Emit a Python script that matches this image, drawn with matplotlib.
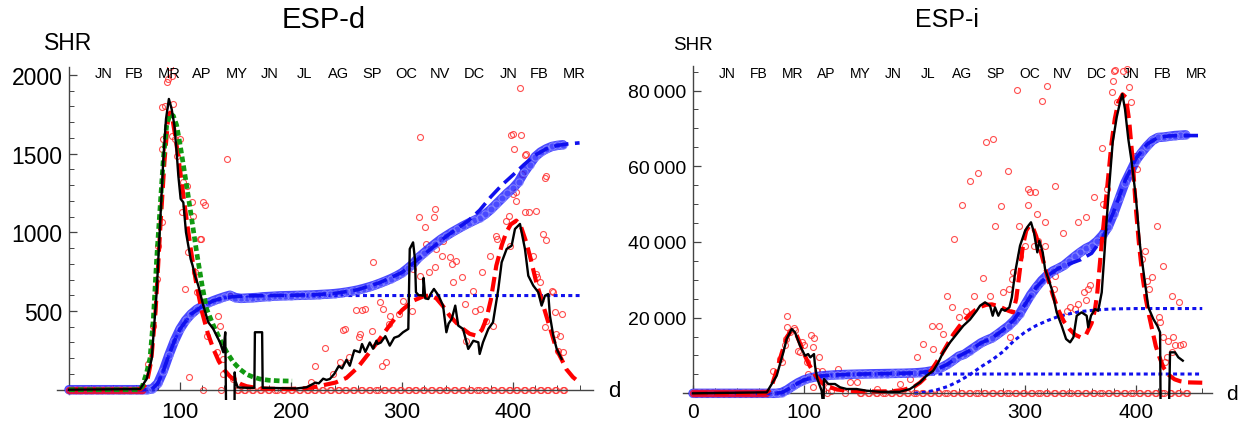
import matplotlib.pyplot as plt
from matplotlib.ticker import MultipleLocator, FixedLocator

plt.rcParams['font.family'] = ['Liberation Sans', 'DejaVu Sans']

# month labels along the top (day number at month end)
months = ['JN', 'FB', 'MR', 'AP', 'MY', 'JN', 'JL', 'AG', 'SP', 'OC', 'NV', 'DC', 'JN', 'FB', 'MR']
month_days = [31, 59, 90, 120, 151, 181, 212, 243, 273, 304, 334, 365, 396, 424, 455]

# days with a zero report (shared by both panels)
zero_days_early = [0, 2, 4, 6, 8, 10, 12, 14, 16, 18, 20, 22, 24, 26, 28, 30, 32, 34, 36,
                   38, 40, 42, 44, 46, 48, 50, 52, 54, 56, 58, 60, 62, 64, 66]
zero_days = [121, 137, 151, 152, 158, 159, 165, 166, 172, 173, 179, 180, 186, 187, 193, 194,
             200, 201, 207, 208, 214, 215, 221, 222, 228, 229, 235, 236, 242, 243, 249, 250,
             256, 257, 263, 264, 270, 271, 277, 278, 284, 285, 291, 292, 298, 299, 305, 306,
             312, 313, 319, 320, 326, 327, 333, 334, 340, 341, 347, 348, 354, 355, 361, 362,
             368, 369, 375, 376, 382, 383, 389, 390, 396, 397, 403, 404, 410, 411, 417, 418,
             424, 425, 431, 432, 438, 439, 445, 446]

# ---------------- ESP-d ----------------
d_daily_x = [71, 76, 79, 80.5, 83.5, 83.5, 85, 84, 86.5, 88, 89.5, 91, 92.5, 94, 95.5, 92.5, 97,
             100, 101.5, 103, 104.5, 106, 107.5, 108.4, 110.5, 112, 118, 121, 115, 113.5, 122.8,
             124, 133, 136, 134.5, 139, 139, 142, 145, 148, 118.7,
             218, 222, 231, 238, 244, 247, 249, 252, 259, 261, 262, 264, 267, 273, 274, 280, 282,
             283, 286, 288, 289, 297, 301, 309, 310, 315, 316, 316, 321, 322, 324, 329, 330, 331,
             330, 336, 337, 343, 345, 346, 349, 354, 357, 358, 364, 366, 370, 372, 376, 379, 382,
             385, 386, 394, 396, 397, 400, 403, 403, 408, 411, 414, 421, 412, 430, 427, 430, 418,
             421, 422, 424, 435, 436, 429, 438, 439, 442, 444, 445, 441, 400, 407, 401, 406, 411,
             429, 398]
d_daily_y = [163, 407, 703, 915, 1063, 1529, 1593, 1794, 1805, 1953, 1974, 2048, 1995, 1815, 1593,
             1614, 1487, 1593, 1127, 1318, 640, 1296, 873, 79, 1190, 1106, 957, 1190, 619, 746,
             1176, 343, 238, 407, 470, 195, 99, 1466, 597, 68, 956,
             50, 150, 265, 100, 174, 380, 386, 206, 506, 333, 354, 506, 513, 375, 809, 555, 152,
             513, 174, 417, 470, 481, 565, 502, 767, 1095, 1605, 724, 1032, 926, 746, 1095, 1148,
             894, 778, 851, 947, 841, 799, 682, 820, 714, 544, 311, 629, 502, 513, 750, 438, 851,
             407, 978, 960, 1074, 1105, 915, 1243, 1254, 1201, 1370, 1127, 1131, 1137, 1497, 1360,
             989, 951, 851, 735, 714, 682, 629, 619, 396, 491, 354, 342, 481, 241, 247, 1625, 1615,
             1531, 1918, 1489, 1343, 1615]

d_avg_x = [0, 64, 70, 74.5, 79, 82, 85, 87.4, 90, 92.5, 95, 97, 98.5, 100.6, 103, 105.4, 107.5,
           109.6, 111.4, 113.5, 116.5, 121, 125.5, 130, 136, 139, 140.8, 141.8, 142.3, 149, 149.3,
           149.8, 152, 160, 167, 167.5, 174, 174.5, 190, 205, 214, 222, 225, 229, 232, 235, 239,
           243, 246, 250, 253, 257, 262, 264, 267, 271, 274, 277, 278, 281, 285, 289, 293, 297,
           301, 305.7, 307, 310, 311.7, 312.6, 315, 317, 319, 319.5, 321, 323.7, 326, 328.8, 333,
           337, 340, 342, 344.8, 348, 350.7, 355, 359.7, 364.3, 368.8, 370, 373, 377.8, 382,
           386.8, 389.8, 394.3, 398.8, 401.8, 406.3, 410.8, 413.8, 418.3, 422.8, 425.8, 428.8,
           431.8, 433.3, 436.3, 439.4, 443.8]
d_avg_y = [0, 4, 68, 195, 619, 1042, 1466, 1720, 1847, 1783, 1677, 1508, 1360, 1212, 1190, 1000,
           915, 830, 788, 724, 661, 534, 428, 386, 301, 238, 365, -300, -300, -300, 110, 60, 15, 12,
           12, 365, 365, 12, 10, 8, 15, 45, 40, 70, 62, 68, 100, 150, 135, 190, 152, 250, 238, 290,
           240, 300, 260, 311, 290, 300, 340, 280, 330, 340, 365, 386, 894, 936, 830, 619, 600, 600,
           597, 710, 580, 576, 610, 640, 597, 534, 365, 420, 449, 534, 407, 386, 259, 311, 301, 227,
           301, 386, 428, 640, 809, 894, 915, 1021, 1053, 894, 724, 661, 619, 534, 597, 608, 470,
           343, 259, 195]

d_fit_x = [0, 60, 65, 70, 74, 78, 82, 86, 89, 91, 93, 96, 100, 105, 110, 115, 120, 125, 130, 135,
           140, 145, 150, 155, 160, 170, 180, 190, 200, 210, 220, 230, 240, 250, 260, 270, 280,
           290, 300, 310, 320, 326, 331, 337, 343, 349, 355, 361, 367, 372, 376, 380, 385, 390,
           394, 398, 403, 407, 412, 416, 421, 425, 430, 435, 439, 444, 448, 454, 460]
d_fit_y = [0, 0, 5, 40, 180, 500, 1000, 1450, 1700, 1760, 1730, 1600, 1400, 1130, 880, 660, 490,
           360, 260, 180, 125, 85, 55, 35, 22, 10, 6, 5, 5, 8, 15, 30, 45, 75, 140, 230, 322, 420,
           505, 565, 595, 598, 580, 530, 470, 425, 386, 355, 343, 380, 449, 570, 788, 920, 1000,
           1050, 1074, 1040, 936, 830, 682, 590, 470, 355, 259, 190, 131, 80, 45]

d_wave1_x = [0, 62, 66, 70, 73, 76, 79, 82, 85, 88, 91, 94, 97, 100, 103, 106, 110, 115, 120, 124,
             130, 136, 142, 148, 154, 160, 166, 172, 180, 190, 201]
d_wave1_y = [0, 0, 20, 110, 200, 450, 830, 1150, 1466, 1680, 1752, 1740, 1680, 1560, 1430, 1296,
             1110, 874, 660, 513, 410, 320, 240, 175, 130, 98, 80, 68, 60, 56, 55]

d_cum_x = [0, 5, 10, 15, 20, 25, 30, 35, 40, 45, 50, 55, 60, 65, 70, 75, 80, 85, 90, 95, 100,
           105, 110, 115, 120, 125, 130, 135, 140, 145, 150, 155, 160, 165, 170, 175, 180, 185,
           190, 195, 200, 205, 210, 215, 220, 225, 230, 235, 240, 245, 250, 255, 260, 265, 270,
           275, 280, 285, 290, 295, 300, 305, 310, 315, 320, 325, 330, 335, 340, 345, 350, 355,
           360, 365, 370, 375, 380, 385, 390, 395, 400, 405, 410, 415, 420, 425, 430, 435, 440, 445]
d_cum_y = [0, 0, 0, 0, 0, 0, 0, 0, 0, 0, 0, 0, 0, 0, 0, 5, 40, 120, 220, 310, 385, 440, 480, 510,
           530, 550, 565, 578, 590, 600, 585, 580, 582, 584, 586, 590, 592, 594, 596, 597, 598,
           599, 600, 601, 602, 604, 606, 608, 611, 615, 620, 626, 633, 642, 652, 663, 676, 690,
           705, 722, 742, 770, 800, 840, 870, 900, 928, 955, 978, 1000, 1020, 1040, 1058, 1075,
           1092, 1115, 1145, 1180, 1215, 1250, 1280, 1320, 1380, 1430, 1480, 1510, 1530, 1545,
           1552, 1556]

d_cumfit_x = [0, 70, 75, 80, 85, 90, 95, 100, 110, 120, 130, 140, 150, 160, 180, 200, 220, 240,
              260, 280, 300, 320, 340, 350, 360, 370, 380, 390, 400, 410, 420, 430, 440, 450, 460]
d_cumfit_y = [0, 0, 5, 40, 120, 220, 310, 385, 480, 530, 565, 585, 592, 596, 598, 600, 603, 612,
              635, 680, 745, 860, 975, 1025, 1075, 1140, 1225, 1300, 1364, 1430, 1490, 1530, 1552,
              1562, 1568]

d_cum1_x = [0, 70, 75, 80, 85, 90, 95, 100, 110, 120, 130, 140, 150, 160, 180, 200, 460]
d_cum1_y = [0, 0, 5, 40, 120, 220, 310, 385, 480, 530, 565, 585, 592, 595, 597, 598, 598]

# ---------------- ESP-i ----------------
i_daily_x = [72.5, 80, 84.6, 85, 87.6, 91.2, 92, 84, 82.7, 78.6, 95, 96.5, 98.2, 100.2, 102.7,
             104.2, 106.6, 109.3, 108.3, 108.7, 114, 112, 116.2, 117.7, 122.2, 131.3, 125, 141.8,
             147.9, 166, 187, 196, 202, 208, 215.6, 222.5, 217, 226, 229, 236, 243.3, 250, 257,
             254, 247, 240.5, 234, 264.7, 271.3, 278, 284.9, 272.8, 292.4, 315, 320, 261.7, 268.3,
             280.3, 285.8, 287.9, 288.8, 286.4, 294.8, 302.9, 304.4, 302.3, 309, 310.5, 308, 311.7,
             318, 327, 334, 348, 355, 362.2, 369.2, 370, 373.7, 378.2, 380.3, 383.3, 388.7, 394.1,
             395.4, 399.3, 400.8, 405.3, 408.3, 414.3, 418.9, 424.8, 432.4, 439.3, 421.2, 421.7,
             424.8, 429.4, 433.9, 435.4, 440, 442.4, 432.4, 426.3, 428.4, 409.8, 412.2, 340.5, 345,
             348, 353, 357, 358.5, 355, 337.5, 327, 326.5, 318, 295.4, 300, 381, 391.7, 379]
i_daily_y = [5970, 8190, 20340, 17440, 16120, 17170, 16650, 14350, 12850, 9060, 11250, 10860,
             13470, 12850, 8190, 5100, 15400, 14530, 12360, 1590, 9510, 5970, 5970, 2900, 1590,
             6420, 700, 2900, 2900, 1140, 2460, 3780, 9510, 13030, 17860, 17860, 11700, 15670,
             25790, 40770, 49830, 56170, 58120, 25630, 21820, 20080, 22720, 66480, 67190, 49570,
             58820, 44280, 80220, 77310, 81110, 30380, 25790, 26680, 27690, 30200, 32140, 14800,
             44280, 53980, 53120, 49830, 53120, 47370, 39000, 40330, 45180, 54850, 42270, 45180,
             46500, 51780, 64730, 50010, 53980, 79520, 85230, 76880, 85230, 80850, 77040, 62780,
             59260, 35480, 37680, 30650, 44280, 33700, 25630, 24040, 20080, 18900, 14800, 13900,
             14800, 12760, 12760, 13000, 10830, 8190, 9700, 29750, 27500, 22720, 22280, 23600,
             26680, 27560, 28700, 24750, 21820, 31070, 27560, 39000, 36360, 39000, 85300, 85700,
             82600]

i_avg_x = [0, 66.6, 75.6, 81.6, 84.6, 89.2, 92.1, 96.7, 101.2, 104, 106, 109.3, 110.2, 112.3,
           116.2, 117.5, 117.9, 118.3, 122.2, 128.3, 132.8, 138.8, 147.8, 156.8, 168.8, 186.8, 196,
           205, 211, 217, 221.6, 226, 232.2, 238.2, 244.2, 250.2, 256.3, 259.3, 263.8, 268.3,
           270.7, 272.8, 275.8, 278.8, 281.8, 285.8, 288, 291, 295.4, 300, 302.9, 305.3, 308, 311,
           312.9, 315.9, 318, 321, 324, 328.5, 333, 337, 340.6, 343.6, 346.6, 351, 355.6, 357,
           359.5, 363, 366, 369.2, 371.3, 373.7, 376, 379.1, 382.7, 385.7, 387.8, 390.2, 393.2,
           396.3, 400.2, 403.8, 407.4, 411.3, 415.8, 419.4, 421.9, 422.4, 429.9, 430.9, 435.4,
           438.4, 442.4]
i_avg_y = [0, 260, 4650, 10830, 14350, 16990, 16120, 12580, 9930, 10370, 9500, 10370, 7290, 3780,
           690, -3000, -3000, 3780, 2460, 2460, 1590, 1140, 1140, 690, 400, 400, 1140, 2900, 4650,
           5970, 8190, 10830, 13470, 15670, 17860, 19500, 21820, 23150, 24040, 23150, 20500, 22720,
           20500, 22280, 21820, 22720, 25360, 31960, 39000, 42960, 44280, 45180, 42530, 37250,
           40330, 37250, 32840, 30200, 27560, 21400, 17860, 14350, 13470, 14800, 20500, 21400,
           20500, 17440, 20500, 22270, 21820, 26680, 35480, 46050, 54850, 66310, 72920, 76880,
           79070, 75110, 67190, 61030, 51330, 39000, 31070, 22720, 19630, 17860, 16120, -5000,
           -5000, 10830, 10830, 9510, 8630]

i_fit_x = [0, 65, 70, 75, 80, 85, 89, 93, 97, 101, 105, 110, 115, 120, 130, 140, 150, 160, 170,
           180, 190, 200, 205, 210, 215, 220, 225, 230, 235, 240, 245, 250, 255, 260, 265, 270,
           275, 280, 285, 289, 292, 295, 298, 301, 304, 307, 310, 315, 320, 325, 330, 335, 340,
           345, 350, 355, 360, 363, 365, 369, 372, 374, 378, 381, 384, 388, 391, 394, 397, 400,
           403, 406, 409, 412, 415, 418, 421, 425, 430, 435, 440, 446, 453, 460]
i_fit_y = [0, 0, 1000, 5500, 10500, 15000, 16600, 15800, 13000, 10000, 7500, 5000, 3200, 2000,
           1000, 700, 550, 500, 500, 550, 900, 1800, 2800, 4200, 6000, 8200, 10500, 13000, 15500,
           17500, 19300, 20800, 22000, 22900, 23400, 23500, 23100, 22500, 21800, 21400, 25000,
           32000, 39000, 43000, 44300, 43800, 41500, 36500, 31000, 26000, 22000, 19000, 17000,
           15500, 14800, 15500, 18500, 22000, 26000, 39000, 48000, 54000, 66000, 72500, 76800,
           79000, 78200, 72000, 62000, 49000, 39000, 31000, 25000, 20500, 16500, 12500, 9800, 6800,
           4800, 3700, 3200, 2900, 2850, 2800]

i_cum_x = d_cum_x
i_cum_y = [0, 0, 0, 0, 0, 0, 0, 0, 0, 0, 0, 0, 0, 0, 0, 0, 200, 900, 1900, 2800, 3500, 4000, 4300,
           4550, 4700, 4800, 4900, 4950, 5000, 5040, 5080, 5110, 5150, 5180, 5200, 5230, 5250,
           5280, 5300, 5350, 5400, 5500, 5650, 5900, 6300, 6900, 7700, 8700, 9800, 10300, 11300,
           12300, 13300, 14000, 14600, 15600, 16700, 17800, 19200, 21000, 23500, 26000, 28000,
           29800, 31200, 32300, 33000, 33800, 35000, 36200, 37300, 38300, 39000, 40200, 41800,
           44000, 47500, 51500, 55500, 58500, 61500, 63500, 65300, 66800, 67600, 67700, 67900,
           68100, 68200, 68300]

i_cumfit_x = [0, 75, 80, 85, 90, 100, 110, 120, 140, 160, 180, 200, 210, 220, 230, 240, 250, 260,
              270, 280, 290, 300, 310, 320, 330, 340, 350, 360, 370, 380, 390, 400, 410, 420, 430,
              440, 450, 460]
i_cumfit_y = [0, 0, 200, 900, 1900, 3500, 4300, 4700, 5000, 5150, 5250, 5400, 5650, 6300, 7700,
              9800, 11300, 13300, 14600, 16700, 19500, 23500, 28000, 31000, 33000, 34200, 35300,
              37000, 41000, 48000, 56000, 62000, 65800, 67600, 68000, 68100, 68100, 68100]

i_cum1_x = [0, 75, 80, 85, 90, 100, 110, 120, 140, 160, 200, 460]
i_cum1_y = [0, 0, 200, 900, 1900, 3500, 4300, 4700, 5000, 5080, 5100, 5100]

i_cum2_x = [200, 210, 220, 230, 240, 250, 260, 270, 280, 290, 300, 310, 320, 330, 340, 350, 360,
            370, 380, 400, 460]
i_cum2_y = [0, 300, 900, 1800, 3200, 4900, 7000, 8800, 11000, 13900, 16200, 17900, 19200, 20300,
            21000, 21600, 21900, 22150, 22300, 22400, 22400]

i_ytick_vals = [20000, 40000, 60000, 80000]
i_ytick_labels = ['20\u2009000', '40\u2009000', '60\u2009000', '80\u2009000']


def style_axes(ax, xmajor, ymajor, yminor, fs_x, fs_y, xpad):
    for s in ['top', 'right']:
        ax.spines[s].set_visible(False)
    ax.spines['left'].set_position(('data', 0))
    ax.spines['bottom'].set_position(('data', 0))
    for s in ['left', 'bottom']:
        ax.spines[s].set_color('#444444')
        ax.spines[s].set_linewidth(1.0)
    ax.xaxis.set_major_locator(FixedLocator(xmajor))
    ax.xaxis.set_minor_locator(MultipleLocator(20))
    ax.yaxis.set_major_locator(FixedLocator(ymajor))
    ax.yaxis.set_minor_locator(MultipleLocator(yminor))
    ax.tick_params(which='both', direction='in', color='#444444')
    ax.tick_params(which='major', length=6, width=0.9)
    ax.tick_params(which='minor', length=3.5, width=0.7)
    ax.tick_params(axis='x', labelsize=fs_x, pad=xpad)
    ax.tick_params(axis='y', labelsize=fs_y, pad=4.5)


def draw_common(ax, daily_x, daily_y, avg_x, avg_y, fit_x, fit_y, cum_x, cum_y, cumfit_x, cumfit_y):
    red = '#ff3030'
    ax.plot(daily_x, daily_y, 'o', ms=4.3, mfc='none', mec=red, mew=0.8, alpha=0.85, zorder=2)
    ax.plot(zero_days, [0] * len(zero_days), 'o', ms=4.3, mfc='none', mec=red, mew=0.8,
            alpha=0.85, zorder=2)
    # cumulative band: thick line with open circles on it
    ax.plot(cum_x, cum_y, '-', color='#1c1cff', lw=6.8, alpha=0.8, zorder=3,
            solid_capstyle='round')
    ax.plot(cum_x, cum_y, 'o', ms=5.2, mfc='none', mec='#8a8aff', mew=0.8, alpha=0.8, zorder=3)
    ax.plot(zero_days_early, [0] * len(zero_days_early), 'o', ms=4.3, mfc='none', mec='#e01040',
            mew=1.1, zorder=4)
    ax.plot(cumfit_x, cumfit_y, color='#1010ee', lw=2.6, dashes=(4, 1.8), zorder=5)
    ax.plot(fit_x, fit_y, color='red', lw=3.0, dashes=(3.5, 1.6), zorder=6)
    ax.plot(avg_x, avg_y, color='black', lw=1.7, zorder=7)


fig = plt.figure(figsize=(12.44, 4.27), dpi=100)

# left panel
axL = fig.add_axes([57 / 1244, 26 / 427, 536 / 1244, 333 / 427])
axL.set_xlim(-10.8, 472.1)
axL.set_ylim(-65.5, 2050)
axL.plot(d_cum1_x, d_cum1_y, color='#1010ee', lw=2.2, dashes=(1.3, 1.1), zorder=2.5)
draw_common(axL, d_daily_x, d_daily_y, d_avg_x, d_avg_y, d_fit_x, d_fit_y,
            d_cum_x, d_cum_y, d_cumfit_x, d_cumfit_y)
axL.plot(d_wave1_x, d_wave1_y, color='#119911', lw=3.4, dashes=(1.2, 0.7), zorder=6)
style_axes(axL, [100, 200, 300, 400], [500, 1000, 1500, 2000], 100, 16, 16.5, 8)
axL.spines['left'].set_bounds(-25, 2050)
for m, dd in zip(months, month_days):
    axL.text(dd, 2010, m, ha='center', va='center', fontsize=10.5)
fig.text(324 / 1244, 1 - 20 / 427, 'ESP-d', ha='center', va='center', fontsize=21)
fig.text(68 / 1244, 1 - 43 / 427, 'SHR', ha='center', va='center', fontsize=16.5)
fig.text(614 / 1244, 1 - 392 / 427, 'd', ha='center', va='center', fontsize=16)

# right panel
axR = fig.add_axes([682.7 / 1244, 27 / 427, 529.3 / 1244, 333.3 / 427])
axR.set_xlim(-9.3, 468.8)
axR.set_ylim(-1500, 86560)
axR.plot(i_cum1_x, i_cum1_y, color='#1010ee', lw=2.2, dashes=(1.3, 1.1), zorder=2.5)
axR.plot(i_cum2_x, i_cum2_y, color='#1010ee', lw=2.2, dashes=(1.3, 1.1), zorder=2.5)
draw_common(axR, i_daily_x, i_daily_y, i_avg_x, i_avg_y, i_fit_x, i_fit_y,
            i_cum_x, i_cum_y, i_cumfit_x, i_cumfit_y)
style_axes(axR, [0, 100, 200, 300, 400], i_ytick_vals, 5000, 15, 14, 6.5)
axR.set_yticklabels(i_ytick_labels)
axR.spines['left'].set_bounds(-600, 86560)
for m, dd in zip(months, month_days):
    axR.text(dd, 84500, m, ha='center', va='center', fontsize=10)
fig.text(947 / 1244, 1 - 20 / 427, 'ESP-i', ha='center', va='center', fontsize=18)
fig.text(693 / 1244, 1 - 45 / 427, 'SHR', ha='center', va='center', fontsize=13.5)
fig.text(1232 / 1244, 1 - 395 / 427, 'd', ha='center', va='center', fontsize=15)

fig.savefig('out.png', dpi=100)
